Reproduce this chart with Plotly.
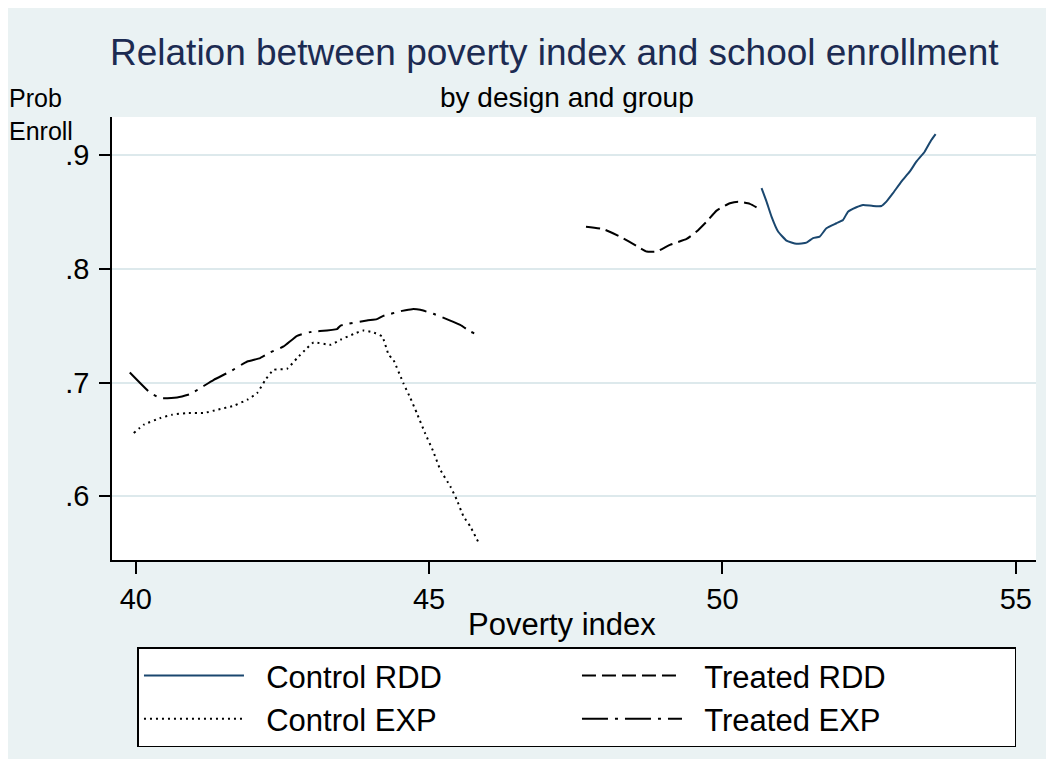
import plotly.graph_objects as go

# ---- data ----
ctrl_rdd_x = [50.666, 50.751, 50.836, 50.948, 51.091, 51.262, 51.432, 51.544, 51.658, 51.772,
              51.943, 52.055, 52.140, 52.283, 52.396, 52.566, 52.709, 52.794, 52.906, 53.049,
              53.191, 53.305, 53.446, 53.560, 53.633]
ctrl_rdd_y = [0.8708, 0.8590, 0.8458, 0.8327, 0.8248, 0.8219, 0.8230, 0.8269, 0.8283, 0.8356,
              0.8400, 0.8429, 0.8502, 0.8541, 0.8561, 0.8552, 0.8552, 0.8590, 0.8664, 0.8766,
              0.8853, 0.8941, 0.9029, 0.9132, 0.9184]

treat_rdd_x = [47.674, 47.969, 48.253, 48.537, 48.708, 48.878, 49.104, 49.389, 49.559, 49.729,
               49.900, 50.126, 50.267, 50.467, 50.637]
treat_rdd_y = [0.8370, 0.8348, 0.8283, 0.8201, 0.8151, 0.8151, 0.8210, 0.8262, 0.8327, 0.8414,
               0.8511, 0.8576, 0.8590, 0.8570, 0.8523]

ctrl_exp_x = [39.966, 40.136, 40.42, 40.62, 40.875, 41.16, 41.39, 41.67, 41.90, 42.07,
              42.21, 42.35, 42.58, 42.75, 42.92, 43.03, 43.32, 43.49, 43.71, 43.88,
              44.03, 44.20, 44.31, 44.39, 44.56, 44.68, 44.79, 44.93, 45.07, 45.19,
              45.36, 45.47, 45.585, 45.70, 45.84]
ctrl_exp_y = [0.6556, 0.6629, 0.6688, 0.6717, 0.6732, 0.6732, 0.6761, 0.6796, 0.6849, 0.6908,
              0.7024, 0.7112, 0.7121, 0.7215, 0.7303, 0.7352, 0.7332, 0.7376, 0.7426, 0.7457,
              0.7443, 0.7405, 0.7244, 0.7200, 0.6995, 0.6864, 0.6732, 0.6556, 0.6395, 0.6234,
              0.6088, 0.5971, 0.5824, 0.5736, 0.5596]

treat_exp_x = [39.898, 40.25, 40.42, 40.705, 40.93, 41.10, 41.33, 41.61, 41.90, 42.12,
               42.29, 42.52, 42.75, 42.97, 43.43, 43.49, 43.94, 44.11, 44.22, 44.54,
               44.71, 44.85, 45.07, 45.33, 45.53, 45.70, 45.86]
treat_exp_y = [0.7088, 0.6908, 0.6864, 0.6869, 0.6899, 0.6951, 0.7024, 0.7097, 0.7185, 0.7215,
               0.7264, 0.7317, 0.7411, 0.7443, 0.7470, 0.7501, 0.7545, 0.7557, 0.7586, 0.7630,
               0.7645, 0.7639, 0.7604, 0.7551, 0.7507, 0.7449, 0.7411]

series_names = ["Control RDD", "Treated RDD", "Control EXP", "Treated EXP"]

x_ticks = [40, 45, 50, 55]
x_tick_labels = ["40", "45", "50", "55"]
y_ticks = [0.6, 0.7, 0.8, 0.9]
y_tick_labels = [".6", ".7", ".8", ".9"]

FONT = "Liberation Sans, Arial, sans-serif"
BG = "#EAF2F3"
NAVY = "#1A476F"
GAP = "\u00a0\u00a0"   # extra space between legend symbol and label

# page body has an 8px margin: figure is 1038x751 placed at (8, 8)
OFF = 8
PL, PR, PT, PB = 111.5, 1036.5, 117.0, 560.5   # plot area in window pixels
PW, PH = PR - PL, PB - PT


def px(xw):
    return (xw - PL) / PW


def py(yw):
    return (PB - yw) / PH


fig = go.Figure()
fig.add_trace(go.Scatter(x=ctrl_rdd_x, y=ctrl_rdd_y, mode="lines", name=GAP + series_names[0],
                         line=dict(color=NAVY, width=2, shape="spline", smoothing=0.4)))
fig.add_trace(go.Scatter(x=treat_rdd_x, y=treat_rdd_y, mode="lines", name=GAP + series_names[1],
                         line=dict(color="black", width=2, dash="14px,6px", shape="spline", smoothing=0.4)))
fig.add_trace(go.Scatter(x=ctrl_exp_x, y=ctrl_exp_y, mode="lines", name=GAP + series_names[2],
                         line=dict(color="black", width=2, dash="2px,4px", shape="spline", smoothing=0.4)))
fig.add_trace(go.Scatter(x=treat_exp_x, y=treat_exp_y, mode="lines", name=GAP + series_names[3],
                         line=dict(color="black", width=2, dash="26px,7px,3px,7px", shape="spline", smoothing=0.4)))

W, H = 1038, 751
ml = PL - OFF
mt = PT - OFF
mr = W - ml - PW
mb = H - mt - PH

fig.update_layout(
    width=W, height=H,
    paper_bgcolor=BG, plot_bgcolor="white",
    margin=dict(l=ml, r=mr, t=mt, b=mb, pad=0),
    font=dict(family=FONT, color="black", size=28),
    showlegend=True,
    legend=dict(orientation="h", x=px(137), xanchor="left", y=py(648), yanchor="top",
                bgcolor="white", bordercolor="black", borderwidth=1.5,
                font=dict(size=31, family=FONT, color="black"),
                itemwidth=100, entrywidth=323, entrywidthmode="pixels",
                traceorder="normal"),
    xaxis=dict(range=[39.595, 55.344], tickvals=x_ticks, ticktext=x_tick_labels,
               showgrid=False, zeroline=False, showline=True, linecolor="black", linewidth=1.5,
               ticks="outside", ticklen=12, tickwidth=1.5, tickcolor="black",
               tickfont=dict(size=29)),
    yaxis=dict(range=[0.544, 0.9334], tickvals=y_ticks, ticktext=y_tick_labels,
               showgrid=True, gridcolor="#DDE9EC", gridwidth=1.5, zeroline=False,
               showline=True, linecolor="black", linewidth=1.5,
               ticks="outside", ticklen=11, tickwidth=1.5, tickcolor="black",
               ticklabelstandoff=4,
               tickfont=dict(size=29)),
)

fig.add_annotation(text="Relation between poverty index and school enrollment",
                   xref="paper", yref="paper", x=px(554), y=py(52),
                   xanchor="center", yanchor="middle", showarrow=False,
                   font=dict(size=37, color="#1C2B52", family=FONT))
fig.add_annotation(text="by design and group",
                   xref="paper", yref="paper", x=px(567), y=py(97),
                   xanchor="center", yanchor="middle", showarrow=False,
                   font=dict(size=28, color="black", family=FONT))
fig.add_annotation(text="Prob<br>Enroll",
                   xref="paper", yref="paper", x=px(6), y=py(114),
                   xanchor="left", yanchor="middle", align="left", showarrow=False,
                   font=dict(size=25, color="black", family=FONT))
fig.add_annotation(text="Poverty index",
                   xref="paper", yref="paper", x=px(561.5), y=py(625),
                   xanchor="center", yanchor="middle", showarrow=False,
                   font=dict(size=31, color="black", family=FONT))

fig.write_html("out.html")
